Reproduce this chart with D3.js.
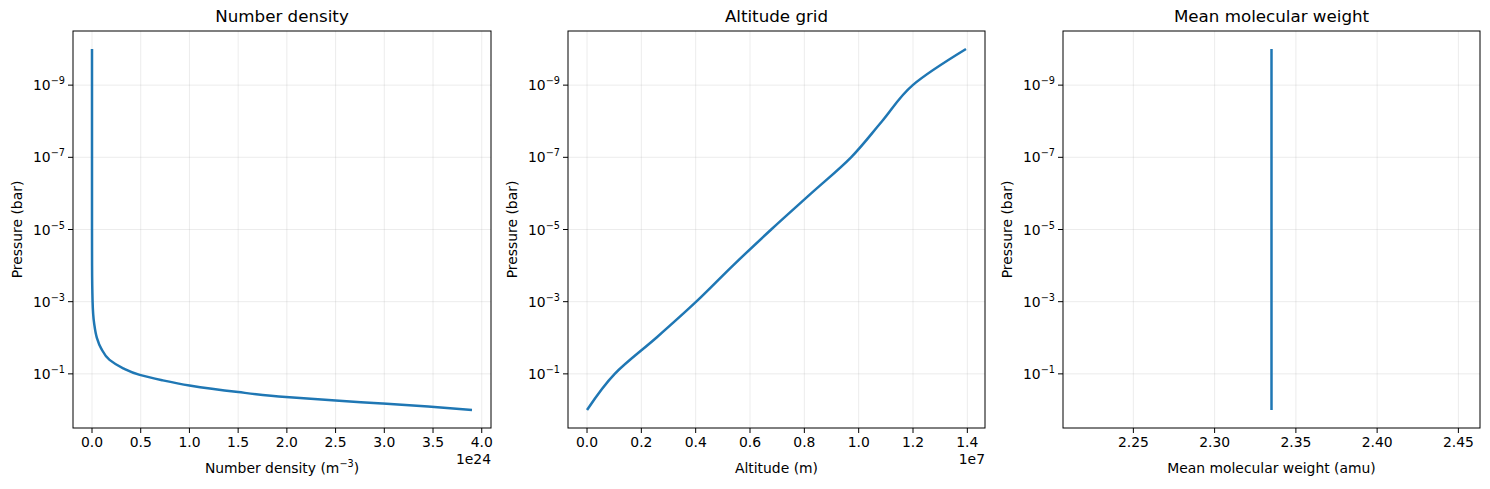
<!DOCTYPE html>
<html><head><meta charset="utf-8">
<script src="https://cdn.jsdelivr.net/npm/d3@7"></script>
<style>body{margin:0;background:#fff}text{font-family:"DejaVu Sans",sans-serif;fill:#000}</style>
</head><body><svg id="c" width="1490" height="489"></svg>
<script>
// Data
const densP = [1, 0.8, 0.66, 0.55, 0.44, 0.32, 0.21, 0.15, 0.107, 0.07, 0.041, 0.02, 0.01, 0.004, 1e-3, 1e-4, 1e-5, 1e-6, 1e-7, 1e-8, 1e-9, 1e-10];
const densN = [3.9, 3.45, 2.98, 2.5, 1.99, 1.5, 1.0, 0.72, 0.49, 0.32, 0.18, 0.095, 0.05, 0.022, 0.006, 0.0007, 0.00008, 0.00001, 0.000001, 0, 0, 0];
const altP = [1, 1e-1, 1e-2, 1e-3, 1e-4, 1e-5, 1e-6, 1e-7, 1e-8, 1e-9, 1e-10];
const altZ = [0, 0.102e7, 0.255e7, 0.402e7, 0.537e7, 0.678e7, 0.825e7, 0.972e7, 1.086e7, 1.199e7, 1.395e7];
const mmwP = [1, 1e-10];
const mmwV = [2.335, 2.335];
const yTicks = [1e-9, 1e-7, 1e-5, 1e-3, 1e-1];
const yExp = ["−9", "−7", "−5", "−3", "−1"];
const densTicks = [0, 0.5, 1, 1.5, 2, 2.5, 3, 3.5, 4];
const altTicks = [0, 0.2, 0.4, 0.6, 0.8, 1.0, 1.2, 1.4];
const mmwTicks = [2.25, 2.30, 2.35, 2.40, 2.45];

const svg = d3.select("#c");
const yTop = 31, yBot = 428;
const y = d3.scaleLog().domain([Math.pow(10, 0.5), Math.pow(10, -10.5)]).range([yBot, yTop]);

const panels = [
  {l:73, r:491, title:"Number density", dom:[-0.195, 4.095], ticks:densTicks, fmt:d3.format(".1f"),
   xs:densN, ps:densP, scale:1, offset:"1e24", xlabel:["Number density (m", "−3", ")"], ylx:17},
  {l:568, r:985, title:"Altitude grid", dom:[-0.07, 1.465], ticks:altTicks, fmt:d3.format(".1f"),
   xs:altZ, ps:altP, scale:1e7, offset:"1e7", xlabel:["Altitude (m)"], ylx:512},
  {l:1063, r:1480, title:"Mean molecular weight", dom:[2.2067, 2.4633], ticks:mmwTicks, fmt:d3.format(".2f"),
   xs:mmwV, ps:mmwP, scale:1, offset:null, xlabel:["Mean molecular weight (amu)"], ylx:1007}
];

panels.forEach(p => {
  const x = d3.scaleLinear().domain(p.dom).range([p.l, p.r]);
  const g = svg.append("g");
  g.selectAll(".gx").data(p.ticks).join("line").attr("x1", d=>x(d)).attr("x2", d=>x(d))
    .attr("y1", yTop).attr("y2", yBot).attr("stroke", "#b0b0b0").attr("stroke-opacity", 0.3).attr("stroke-width", 0.8);
  g.selectAll(".gy").data(yTicks).join("line").attr("y1", d=>y(d)).attr("y2", d=>y(d))
    .attr("x1", p.l).attr("x2", p.r).attr("stroke", "#b0b0b0").attr("stroke-opacity", 0.3).attr("stroke-width", 0.8);
  const pts = p.xs.map((v,i)=>[v/p.scale, p.ps[i]]);
  g.append("path").datum(pts).attr("fill","none").attr("stroke","#1f77b4").attr("stroke-width",2.5)
    .attr("d", d3.line().x(d=>x(d[0])).y(d=>y(d[1])).curve(d3.curveMonotoneY));
  g.append("rect").attr("x",p.l).attr("y",yTop).attr("width",p.r-p.l).attr("height",yBot-yTop)
    .attr("fill","none").attr("stroke","#000").attr("stroke-width",1);
  p.ticks.forEach(t => {
    g.append("line").attr("x1",x(t)).attr("x2",x(t)).attr("y1",yBot).attr("y2",yBot+5).attr("stroke","#000");
    g.append("text").attr("x",x(t)).attr("y",yBot+19).attr("text-anchor","middle").attr("font-size",13.9).text(p.fmt(t));
  });
  yTicks.forEach((t,i) => {
    g.append("line").attr("x1",p.l-5).attr("x2",p.l).attr("y1",y(t)).attr("y2",y(t)).attr("stroke","#000");
    const tx = g.append("text").attr("x",p.l-8).attr("y",y(t)+5).attr("text-anchor","end").attr("font-size",13.9);
    tx.append("tspan").text("10");
    tx.append("tspan").attr("dy",-6).attr("font-size",9.7).text(yExp[i]);
  });
  g.append("text").attr("x",(p.l+p.r)/2).attr("y",yTop-9).attr("text-anchor","middle").attr("font-size",16.7).text(p.title);
  const xl = g.append("text").attr("x",(p.l+p.r)/2).attr("y",yBot+45).attr("text-anchor","middle").attr("font-size",13.9);
  xl.append("tspan").text(p.xlabel[0]);
  if (p.xlabel.length>1) { xl.append("tspan").attr("dy",-6).attr("font-size",9.7).text(p.xlabel[1]); xl.append("tspan").attr("dy",6).text(p.xlabel[2]); }
  if (p.offset) g.append("text").attr("x",p.r).attr("y",yBot+36).attr("text-anchor","end").attr("font-size",13.9).text(p.offset);
  g.append("text").attr("transform",`translate(${p.ylx},${(yTop+yBot)/2}) rotate(-90)`).attr("text-anchor","middle")
    .attr("dy","0.35em").attr("font-size",13.9).text("Pressure (bar)");
});
</script></body></html>
